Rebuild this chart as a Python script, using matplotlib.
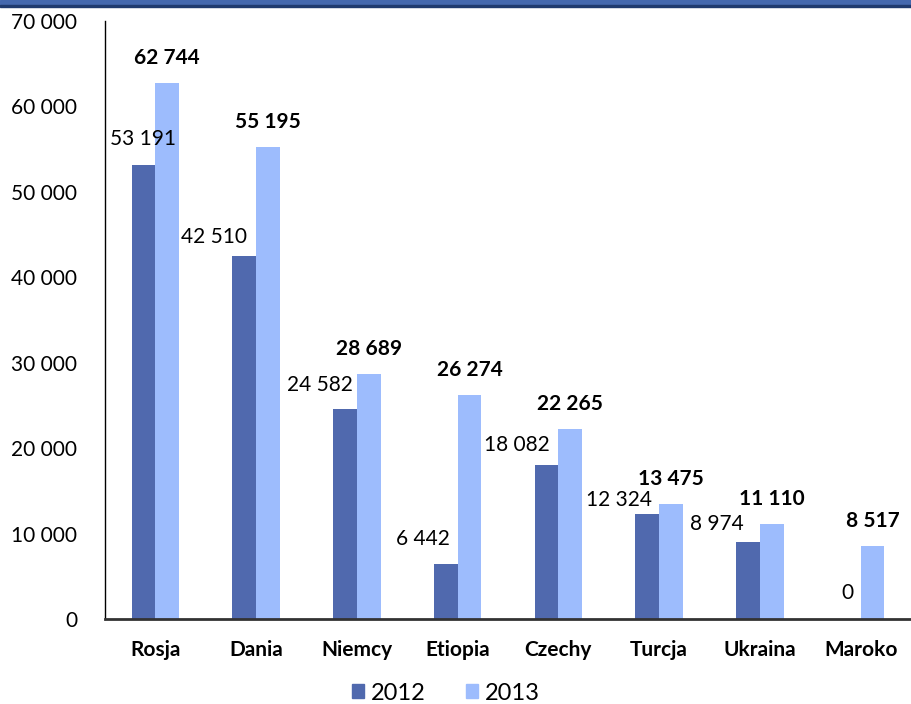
import matplotlib.pyplot as plt
import numpy as np
from matplotlib.ticker import FuncFormatter, MultipleLocator
from matplotlib.patches import Rectangle, Patch

countries = ['Rosja', 'Dania', 'Niemcy', 'Etiopia', 'Czechy', 'Turcja', 'Ukraina', 'Maroko']
years = ['2012', '2013']
values_2012 = [53191, 42510, 24582, 6442, 18082, 12324, 8974, 0]
values_2013 = [62744, 55195, 28689, 26274, 22265, 13475, 11110, 8517]

# przesunięcia etykiet 2012 (piksele) - ręcznie ustawione jak w oryginale
label_dx_2012 = [21, -9, -4, -8, -9, -7, -16, -7]
label_dy_2012 = [26, 19, 24, 25, 20, 14, 18, 26]

dark = '#5069AE'
light = '#9DBCFD'

plt.rcParams['font.family'] = ['Lato', 'DejaVu Sans']

fig = plt.figure(figsize=(9.11, 7.04), dpi=100)
ax = fig.add_axes([105 / 911, 1 - 619 / 704, 1 - 105 / 911, (619 - 21) / 704])

x = np.arange(len(countries))
w = 0.235
ax.bar(x - w / 2, values_2012, w, color=dark, zorder=2)
ax.bar(x + w / 2, values_2013, w, color=light, zorder=2)

def fmt(v, pos=None):
    return f'{int(v):,}'.replace(',', ' ')

for i in range(len(countries)):
    ax.annotate(fmt(values_2012[i]), xy=(x[i], values_2012[i]),
                xytext=(label_dx_2012[i], label_dy_2012[i]), textcoords='offset pixels',
                ha='right', va='center', fontsize=15, color='black')
    ax.annotate(fmt(values_2013[i]), xy=(x[i] + w / 2, values_2013[i]),
                xytext=(0, 25), textcoords='offset pixels',
                ha='center', va='center', fontsize=15, fontweight='bold', color='black')

ax.set_xlim(-0.5, len(countries) - 0.5)
ax.set_ylim(0, 70000)
ax.yaxis.set_major_locator(MultipleLocator(10000))
ax.yaxis.set_major_formatter(FuncFormatter(fmt))
ax.set_xticks(x)
ax.set_xticklabels(countries, fontsize=15, fontweight='bold')
ax.tick_params(axis='x', length=0, pad=15)
ax.tick_params(axis='y', length=0, pad=20, labelsize=15)

ax.spines['top'].set_visible(False)
ax.spines['right'].set_visible(False)
ax.spines['left'].set_color('black')
ax.spines['left'].set_linewidth(1)
ax.spines['bottom'].set_color('#333333')
ax.spines['bottom'].set_linewidth(2)

# niebieski pasek u góry
fig.add_artist(Rectangle((0, 1 - 5 / 704), 1, 5 / 704, transform=fig.transFigure,
                         color='#4468AE', zorder=5))
fig.add_artist(Rectangle((0, 1 - 7 / 704), 1, 2 / 704, transform=fig.transFigure,
                         color='#1F3A6E', zorder=5))

handles = [Patch(color=dark, label=years[0]), Patch(color=light, label=years[1])]
fig.legend(handles=handles, loc='center', bbox_to_anchor=(446 / 911, 1 - 693 / 704),
           ncol=2, frameon=False, fontsize=17, handlelength=0.5, handleheight=0.5,
           handletextpad=0.3, columnspacing=1.7, borderpad=0)

plt.savefig('out.png', dpi=100)
